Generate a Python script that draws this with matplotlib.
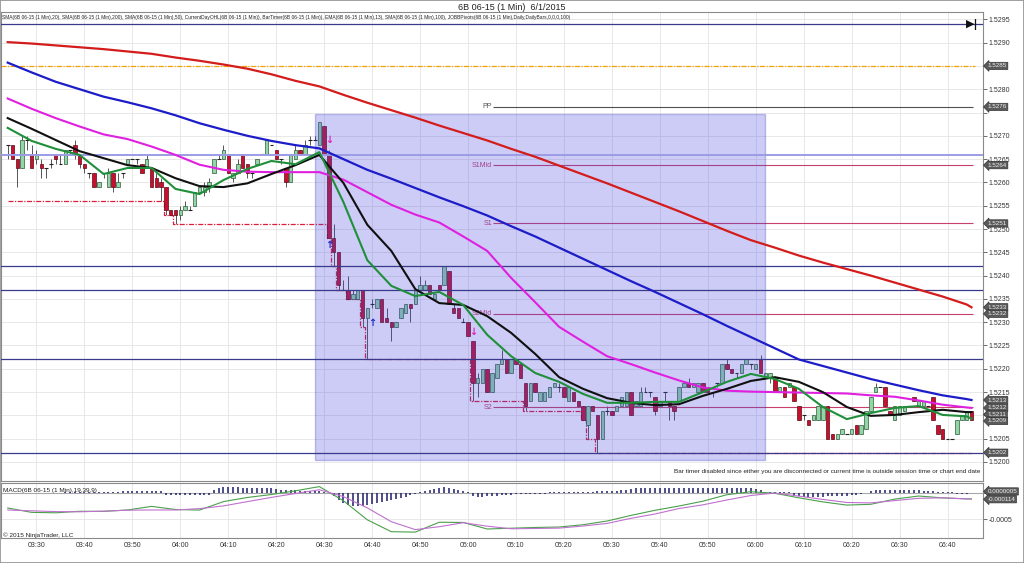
import numpy as np
import matplotlib
matplotlib.use("Agg")
import matplotlib.pyplot as plt
from matplotlib.patches import Rectangle
from matplotlib.ticker import MultipleLocator, FuncFormatter

plt.rcParams['font.family'] = ['Liberation Sans', 'DejaVu Sans']

# ---------------- text ----------------
title = "6B 06-15 (1 Min)  6/1/2015"
indicator_label = ("SMA(6B 06-15 (1 Min),20), SMA(6B 06-15 (1 Min),200), SMA(6B 06-15 (1 Min),50), "
                   "CurrentDayOHL(6B 06-15 (1 Min)), BarTimer(6B 06-15 (1 Min)), EMA(6B 06-15 (1 Min),13), "
                   "SMA(6B 06-15 (1 Min),100), JOBBPivots(6B 06-15 (1 Min),Daily,DailyBars,0,0,0,100)")
macd_label = "MACD(6B 06-15 (1 Min),19,39,9)"
copyright_label = "\u00a9 2015 NinjaTrader, LLC"
bar_timer_msg = ("Bar timer disabled since either you are disconnected or current time is outside "
                 "session time or chart end date")

time_labels = ["03:30", "03:40", "03:50", "04:00", "04:10", "04:20", "04:30", "04:40", "04:50", "05:00",
               "05:10", "05:20", "05:30", "05:40", "05:50", "06:00", "06:10", "06:20", "06:30", "06:40"]
time_label_bars = [6, 16, 26, 36, 46, 56, 66, 76, 86, 96, 106, 116, 126, 136, 146, 156, 166, 176, 186, 196]

# ---------------- OHLC (1-minute bars, 03:24 .. 06:45) ----------------
opens = [1.5268,1.5268,1.5265,1.5263,1.5269,1.5266,1.5265,1.5264,1.5263,1.5264,
         1.5266,1.5264,1.5264,1.5267,1.5268,1.5266,1.5264,1.5262,1.5262,1.5259,
         1.5262,1.5259,1.5262,1.5259,1.5262,1.5264,1.5265,1.5265,1.5264,1.5263,
         1.5263,1.5261,1.5260,1.5259,1.5254,1.5254,1.5253,1.5254,1.5254,1.5255,
         1.5258,1.5258,1.5259,1.5262,1.5265,1.5265,1.5266,1.5261,1.5262,1.5266,
         1.5264,1.5262,1.5264,1.5266,1.5266,1.5268,1.5267,1.5265,1.5263,1.5260,
         1.5265,1.5267,1.5266,1.5269,1.5269,1.5268,1.5272,1.5266,1.5248,1.5245,
         1.5237,1.5237,1.5235,1.5235,1.5237,1.5231,1.5234,1.5233,1.5235,1.5231,
         1.5230,1.5229,1.5231,1.5232,1.5234,1.5234,1.5237,1.5237,1.5238,1.5235,
         1.5238,1.5238,1.5241,1.5233,1.5233,1.5230,1.5230,1.5226,1.5217,1.5217,
         1.5220,1.5215,1.5218,1.5221,1.5222,1.5219,1.5222,1.5221,1.5217,1.5213,
         1.5217,1.5213,1.5213,1.5214,1.5216,1.5216,1.5216,1.5213,1.5215,1.5213,
         1.5212,1.5208,1.5212,1.5210,1.5205,1.5211,1.5211,1.5211,1.5212,1.5212,
         1.5215,1.5212,1.5212,1.5215,1.5215,1.5214,1.5212,1.5215,1.5213,1.5212,
         1.5213,1.5216,1.5217,1.5216,1.5215,1.5217,1.5216,1.5215,1.5217,1.5217,
         1.5221,1.5220,1.5219,1.5219,1.5221,1.5221,1.5220,1.5222,1.5218,1.5218,
         1.5218,1.5215,1.5216,1.5216,1.5216,1.5212,1.5210,1.5209,1.5209,1.5209,
         1.5209,1.5212,1.5206,1.5205,1.5206,1.5206,1.5206,1.5208,1.5206,1.5207,
         1.5211,1.5215,1.5216,1.5216,1.5211,1.5209,1.5210,1.5211,1.5212,1.5214,
         1.5212,1.5212,1.5212,1.5214,1.5208,1.5207,1.5205,1.5205,1.5206,1.5209,
         1.5209,1.5211]
highs = [1.5268,1.5268,1.5265,1.5270,1.5270,1.5268,1.5267,1.5265,1.5263,1.5265,
         1.5266,1.5266,1.5267,1.5267,1.5269,1.5266,1.5264,1.5262,1.5262,1.5260,
         1.5262,1.5263,1.5262,1.5262,1.5262,1.5265,1.5265,1.5265,1.5264,1.5266,
         1.5263,1.5262,1.5261,1.5259,1.5254,1.5254,1.5255,1.5256,1.5255,1.5258,
         1.5259,1.5260,1.5261,1.5265,1.5266,1.5268,1.5266,1.5262,1.5265,1.5266,
         1.5264,1.5262,1.5265,1.5266,1.5269,1.5268,1.5267,1.5265,1.5263,1.5266,
         1.5268,1.5267,1.5269,1.5270,1.5270,1.5273,1.5272,1.5267,1.5251,1.5245,
         1.5239,1.5240,1.5237,1.5237,1.5237,1.5233,1.5235,1.5235,1.5235,1.5233,
         1.5230,1.5230,1.5233,1.5234,1.5234,1.5237,1.5240,1.5239,1.5238,1.5236,
         1.5238,1.5242,1.5241,1.5234,1.5233,1.5231,1.5230,1.5226,1.5219,1.5220,
         1.5220,1.5219,1.5221,1.5224,1.5222,1.5222,1.5222,1.5221,1.5217,1.5217,
         1.5217,1.5215,1.5215,1.5216,1.5217,1.5217,1.5216,1.5216,1.5215,1.5213,
         1.5212,1.5212,1.5212,1.5210,1.5211,1.5212,1.5211,1.5212,1.5214,1.5215,
         1.5215,1.5213,1.5216,1.5216,1.5215,1.5214,1.5213,1.5215,1.5213,1.5212,
         1.5216,1.5217,1.5218,1.5217,1.5217,1.5217,1.5216,1.5215,1.5217,1.5221,
         1.5222,1.5220,1.5219,1.5221,1.5222,1.5221,1.5221,1.5223,1.5219,1.5219,
         1.5218,1.5216,1.5216,1.5217,1.5216,1.5212,1.5210,1.5209,1.5210,1.5212,
         1.5212,1.5212,1.5206,1.5206,1.5207,1.5206,1.5207,1.5208,1.5208,1.5211,
         1.5214,1.5217,1.5216,1.5216,1.5211,1.5212,1.5212,1.5212,1.5212,1.5214,
         1.5213,1.5213,1.5212,1.5214,1.5208,1.5207,1.5205,1.5205,1.5209,1.5210,
         1.5211,1.5211]
lows = [1.5265,1.5265,1.5259,1.5263,1.5267,1.5263,1.5264,1.5261,1.5261,1.5263,
        1.5264,1.5264,1.5264,1.5266,1.5265,1.5263,1.5262,1.5261,1.5259,1.5259,
        1.5261,1.5259,1.5258,1.5259,1.5261,1.5264,1.5265,1.5264,1.5262,1.5263,
        1.5259,1.5259,1.5256,1.5253,1.5253,1.5251,1.5252,1.5254,1.5254,1.5255,
        1.5258,1.5257,1.5258,1.5262,1.5265,1.5265,1.5262,1.5260,1.5262,1.5263,
        1.5261,1.5261,1.5264,1.5266,1.5266,1.5268,1.5265,1.5264,1.5259,1.5260,
        1.5265,1.5266,1.5266,1.5268,1.5269,1.5268,1.5266,1.5248,1.5242,1.5237,
        1.5237,1.5235,1.5235,1.5235,1.5229,1.5222,1.5233,1.5233,1.5230,1.5230,
        1.5226,1.5229,1.5231,1.5232,1.5230,1.5234,1.5237,1.5237,1.5236,1.5235,
        1.5237,1.5238,1.5234,1.5232,1.5231,1.5230,1.5227,1.5213,1.5214,1.5217,
        1.5215,1.5215,1.5218,1.5221,1.5219,1.5219,1.5221,1.5218,1.5211,1.5213,
        1.5215,1.5213,1.5213,1.5214,1.5216,1.5215,1.5214,1.5213,1.5213,1.5212,
        1.5209,1.5205,1.5211,1.5202,1.5205,1.5210,1.5210,1.5211,1.5212,1.5212,
        1.5210,1.5212,1.5212,1.5215,1.5214,1.5210,1.5212,1.5213,1.5209,1.5209,
        1.5213,1.5216,1.5216,1.5216,1.5215,1.5215,1.5215,1.5214,1.5216,1.5217,
        1.5220,1.5219,1.5218,1.5219,1.5221,1.5220,1.5220,1.5219,1.5218,1.5217,
        1.5215,1.5215,1.5214,1.5216,1.5213,1.5209,1.5209,1.5208,1.5209,1.5209,
        1.5209,1.5205,1.5205,1.5205,1.5206,1.5206,1.5206,1.5206,1.5206,1.5207,
        1.5211,1.5215,1.5216,1.5212,1.5210,1.5209,1.5210,1.5211,1.5212,1.5213,
        1.5212,1.5212,1.5212,1.5209,1.5206,1.5205,1.5205,1.5205,1.5206,1.5209,
        1.5209,1.5209]
closes = [1.5268,1.5265,1.5263,1.5269,1.5269,1.5263,1.5266,1.5263,1.5263,1.5264,
          1.5265,1.5264,1.5267,1.5267,1.5266,1.5264,1.5263,1.5262,1.5259,1.5260,
          1.5262,1.5262,1.5259,1.5260,1.5262,1.5265,1.5265,1.5265,1.5262,1.5265,
          1.5259,1.5259,1.5259,1.5254,1.5253,1.5253,1.5254,1.5255,1.5254,1.5258,
          1.5259,1.5259,1.5260,1.5265,1.5265,1.5267,1.5262,1.5262,1.5264,1.5263,
          1.5262,1.5262,1.5265,1.5266,1.5269,1.5268,1.5265,1.5265,1.5260,1.5266,
          1.5267,1.5266,1.5268,1.5269,1.5269,1.5273,1.5266,1.5248,1.5245,1.5238,
          1.5237,1.5235,1.5236,1.5237,1.5231,1.5233,1.5234,1.5235,1.5230,1.5230,
          1.5229,1.5230,1.5233,1.5234,1.5233,1.5237,1.5238,1.5238,1.5236,1.5236,
          1.5237,1.5242,1.5234,1.5232,1.5231,1.5230,1.5227,1.5217,1.5218,1.5220,
          1.5215,1.5219,1.5221,1.5222,1.5219,1.5222,1.5221,1.5218,1.5212,1.5217,
          1.5215,1.5215,1.5215,1.5216,1.5217,1.5216,1.5214,1.5216,1.5213,1.5212,
          1.5209,1.5212,1.5211,1.5205,1.5211,1.5211,1.5210,1.5212,1.5214,1.5215,
          1.5210,1.5213,1.5215,1.5215,1.5215,1.5211,1.5213,1.5215,1.5212,1.5211,
          1.5216,1.5217,1.5216,1.5217,1.5217,1.5215,1.5215,1.5215,1.5217,1.5221,
          1.5220,1.5219,1.5219,1.5221,1.5222,1.5221,1.5221,1.5219,1.5219,1.5219,
          1.5215,1.5216,1.5214,1.5217,1.5213,1.5209,1.5210,1.5208,1.5210,1.5212,
          1.5212,1.5205,1.5205,1.5206,1.5207,1.5206,1.5207,1.5206,1.5208,1.5211,
          1.5214,1.5216,1.5216,1.5212,1.5210,1.5212,1.5212,1.5212,1.5212,1.5213,
          1.5213,1.5213,1.5212,1.5209,1.5206,1.5205,1.5205,1.5205,1.5209,1.5210,
          1.5211,1.5209]

# ---------------- indicator values, read every 5 bars (+ last bar) ----------------
ma_bars = list(range(0, 201, 5)) + [201]
sma200 = [1.52901,1.52898,1.52894,1.52890,1.52886,1.52881,1.52876,1.52868,1.52861,1.52853,
          1.52844,1.52832,1.52818,1.52806,1.52788,1.52771,1.52755,1.52739,1.52722,1.52706,
          1.52690,1.52672,1.52655,1.52636,1.52617,1.52598,1.52578,1.52558,1.52538,1.52517,
          1.52496,1.52476,1.52460,1.52443,1.52428,1.52414,1.52400,1.52385,1.52370,1.52355,
          1.52338,1.52332]
sma100 = [1.52857,1.52836,1.52816,1.52800,1.52784,1.52772,1.52759,1.52744,1.52727,1.52713,
          1.52700,1.52689,1.52680,1.52673,1.52650,1.52627,1.52608,1.52588,1.52568,1.52549,
          1.52529,1.52506,1.52484,1.52460,1.52436,1.52412,1.52388,1.52365,1.52341,1.52317,
          1.52292,1.52268,1.52244,1.52220,1.52206,1.52192,1.52178,1.52166,1.52154,1.52143,
          1.52135,1.52133]
sma50 = [1.52780,1.52758,1.52738,1.52720,1.52703,1.52693,1.52677,1.52659,1.52638,1.52627,
         1.52623,1.52622,1.52622,1.52622,1.52606,1.52579,1.52552,1.52531,1.52514,1.52484,
         1.52453,1.52395,1.52343,1.52290,1.52258,1.52227,1.52210,1.52192,1.52175,1.52160,
         1.52153,1.52151,1.52150,1.52149,1.52148,1.52147,1.52143,1.52140,1.52132,1.52123,
         1.52117,1.52116]
sma20 = [1.52738,1.52715,1.52691,1.52667,1.52652,1.52637,1.52631,1.52609,1.52592,1.52590,
         1.52598,1.52618,1.52637,1.52659,1.52599,1.52509,1.52453,1.52371,1.52341,1.52337,
         1.52313,1.52277,1.52232,1.52182,1.52157,1.52137,1.52127,1.52122,1.52124,1.52142,
         1.52157,1.52174,1.52182,1.52172,1.52150,1.52118,1.52099,1.52101,1.52107,1.52112,
         1.52107,1.52107]
ema13 = [1.52717,1.52689,1.52672,1.52659,1.52618,1.52631,1.52631,1.52586,1.52575,1.52605,
         1.52629,1.52646,1.52639,1.52665,1.52558,1.52433,1.52378,1.52356,1.52365,1.52337,
         1.52273,1.52227,1.52191,1.52172,1.52146,1.52127,1.52127,1.52129,1.52129,1.52150,
         1.52172,1.52189,1.52178,1.52157,1.52118,1.52092,1.52105,1.52116,1.52120,1.52101,
         1.52098,1.52093]
macd_line = [-0.000288,-0.000372,-0.000380,-0.000351,-0.000353,-0.000326,-0.000257,-0.000317,
             -0.000328,-0.000165,-0.000086,-0.000029,0.000042,0.000123,-0.000148,-0.000515,
             -0.000743,-0.000751,-0.000561,-0.000566,-0.000691,-0.000676,-0.000662,-0.000653,
             -0.000609,-0.000538,-0.000430,-0.000332,-0.000250,-0.000157,-0.000033,0.000025,
             -0.000006,-0.000092,-0.000171,-0.000232,-0.000217,-0.000117,-0.000058,-0.000094,
             -0.000113,-0.000114]
macd_signal = [-0.000326,-0.000342,-0.000357,-0.000361,-0.000348,-0.000330,-0.000326,-0.000326,
               -0.000300,-0.000248,-0.000165,-0.000084,-0.000010,0.000063,-0.000069,-0.000286,
               -0.000551,-0.000703,-0.000647,-0.000570,-0.000637,-0.000687,-0.000681,-0.000674,
               -0.000634,-0.000584,-0.000486,-0.000403,-0.000298,-0.000227,-0.000134,-0.000048,
               0.000000,-0.000060,-0.000123,-0.000182,-0.000190,-0.000146,-0.000102,-0.000092,
               -0.000113,-0.000114]
# MACD histogram, one value per bar
macd_hist = [0,0,0,0,0,0,0,0,0,0,
             0,0,1e-5,1e-5,1e-5,1e-5,1e-5,1e-5,1e-5,1e-5,
             1e-5,1e-5,1e-5,1e-5,4e-5,4e-5,4e-5,4e-5,4e-5,4e-5,
             4e-5,4e-5,4e-5,-3e-5,-3e-5,-3e-5,-3e-5,-3e-5,-3e-5,-3e-5,
             -3e-5,-3e-5,-3e-5,6e-5,10e-5,11.5e-5,11.5e-5,11.5e-5,11.5e-5,10e-5,
             10e-5,10e-5,10e-5,10e-5,10e-5,10e-5,8e-5,6e-5,6e-5,6e-5,
             6e-5,4e-5,4e-5,4e-5,4e-5,4e-5,2e-5,0,-6e-5,-13.5e-5,
             -19e-5,-23e-5,-25e-5,-25e-5,-25e-5,-23e-5,-21e-5,-19e-5,-17e-5,-15.5e-5,
             -13.5e-5,-11.5e-5,-10e-5,-8e-5,-4e-5,-2e-5,2e-5,4e-5,6e-5,8e-5,
             10e-5,11.5e-5,10e-5,8e-5,6e-5,4e-5,2e-5,-6e-5,-8e-5,-8e-5,
             -6e-5,-6e-5,-6e-5,-4e-5,-4e-5,-4e-5,-2e-5,-2e-5,-2e-5,-2e-5,
             -1e-5,-1e-5,-1e-5,1e-5,1e-5,1e-5,1e-5,1e-5,2e-5,2e-5,
             2e-5,2e-5,2e-5,4e-5,4e-5,4e-5,4e-5,4e-5,6e-5,6e-5,
             8e-5,10e-5,10e-5,10e-5,10e-5,10e-5,10e-5,10e-5,10e-5,10e-5,
             10e-5,10e-5,10e-5,10e-5,10e-5,10e-5,10e-5,10e-5,10e-5,10e-5,
             10e-5,10e-5,10e-5,10e-5,10e-5,10e-5,8e-5,6e-5,2e-5,2e-5,
             2e-5,2e-5,2e-5,2e-5,-6e-5,-6e-5,-8e-5,-8e-5,-8e-5,-8e-5,
             -8e-5,-6e-5,-6e-5,-6e-5,-6e-5,-6e-5,-4e-5,-4e-5,-2e-5,0,
             4e-5,6e-5,6e-5,6e-5,6e-5,6e-5,6e-5,6e-5,6e-5,6e-5,
             6e-5,4e-5,4e-5,4e-5,2e-5,2e-5,1e-5,1e-5,-1e-5,-1e-5,
             -1e-5,0.0000005]

# ---------------- levels ----------------
day_open = 1.5285
prior_day_low = 1.5256
pivot_names = ["PP", "S1Mid", "S1", "S2Mid", "S2"]
pivot_values = [1.52762, 1.52637, 1.52512, 1.52318, 1.52118]
pivot_start_bar = 101.3
drawn_lines = [1.5294, 1.5242, 1.5237, 1.5222, 1.5202]
drawn_light_line = 1.52659
box_bars = (64.0, 158.0)
box_prices = (1.52004, 1.52747)
signal_up_bars = [67, 76]
signal_up_prices = [1.52465, 1.52298]
signal_down_bars = [67, 97]
signal_down_prices = [1.52690, 1.52278]
hidden_price_labels = [1.5285, 1.5275, 1.5210]

# ---------------- figure ----------------
W, H = 1024, 563
fig = plt.figure(figsize=(W / 100, H / 100), dpi=100)
fig.patch.set_facecolor("white")

def fx(px):
    return px / W

def fy(py):
    return 1 - py / H

ax = fig.add_axes([fx(1), fy(481), fx(983) - fx(1), fy(12) - fy(481)])
ax2 = fig.add_axes([fx(1), fy(538), fx(983) - fx(1), fy(483) - fy(538)])

o = np.array(opens); h = np.array(highs); l = np.array(lows); c = np.array(closes)
n = len(o)
bars = np.arange(n)

spine_col = "#8a8a8a"
for a in (ax, ax2):
    for s in a.spines.values():
        s.set_color(spine_col)
        s.set_linewidth(0.8)
    a.set_xlim(-1.4, 203.4)
    a.set_xticks(time_label_bars)
    a.grid(True, color="#e4e4e4", linewidth=0.6, zorder=0)
    a.set_axisbelow(True)
    a.yaxis.tick_right()
    a.tick_params(axis="y", which="both", length=3, width=0.6, color="#555555",
                  labelsize=5, labelcolor="#333333", pad=1)

ax.set_ylim(1.519592, 1.529657)
ax.yaxis.set_major_locator(MultipleLocator(0.0005))

def price_fmt(v, pos):
    if any(abs(v - hv) < 1e-6 for hv in hidden_price_labels):
        return ""
    return f"{v:.4f}"

ax.yaxis.set_major_formatter(FuncFormatter(price_fmt))
ax.tick_params(axis="x", length=0, labelbottom=False)

# candles
up = c > o
down = c < o
doji = c == o
ax.vlines(bars, l, h, color="#3a3a3a", linewidth=0.6, zorder=2)
ax.bar(bars[up], (c - o)[up], bottom=o[up], width=0.72, color="#93d6a6",
       edgecolor="#2f5a3c", linewidth=0.5, zorder=2.5)
ax.bar(bars[down], (c - o)[down], bottom=o[down], width=0.72, color="#c8102e",
       edgecolor="#5a0a16", linewidth=0.5, zorder=2.5)
ax.hlines(c[doji], bars[doji] - 0.4, bars[doji] + 0.4, color="#222222", linewidth=0.8, zorder=2.5)

# current day OHL lines
day_low = np.minimum.accumulate(np.minimum(l, prior_day_low))
ax.plot(bars, day_low, drawstyle="steps-mid", color="#dc1e3c", linewidth=0.9,
        linestyle=(0, (4, 1.2, 1, 1.2)), zorder=2.2)
ax.axhline(day_open, xmin=0, xmax=0.992, color="#f4a000", linewidth=0.9,
           linestyle=(0, (4, 1.2, 1, 1.2)), zorder=2.2)

# pivots
for name, val in zip(pivot_names, pivot_values):
    col = "#505050" if name == "PP" else "#c8406a"
    ax.hlines(val, pivot_start_bar, n - 0.6, color=col, linewidth=0.8, zorder=2.2)
    ax.text(pivot_start_bar - 0.3, val, name, ha="right", va="center", fontsize=5, color=col, zorder=2.2)

# drawn horizontal lines
for val in drawn_lines:
    ax.axhline(val, color="#3a3a8c", linewidth=0.9, zorder=3.5)
ax.axhline(drawn_light_line, color="#9c9ce6", linewidth=1.4, zorder=3.5)

# drawn rectangle
ax.add_patch(Rectangle((box_bars[0], box_prices[0]), box_bars[1] - box_bars[0],
                       box_prices[1] - box_prices[0], facecolor="#4848e0", alpha=0.28,
                       edgecolor="#3030c0", linewidth=1.0, zorder=3))

# moving averages
ax.plot(ma_bars, sma200, color="#d41c1c", linewidth=1.6, zorder=4)
ax.plot(ma_bars, sma100, color="#1c1cc8", linewidth=1.6, zorder=4)
ax.plot(ma_bars, sma50, color="#e020e0", linewidth=1.5, zorder=4)
ax.plot(ma_bars, sma20, color="#101010", linewidth=1.5, zorder=4.1)
ax.plot(ma_bars, ema13, color="#1f8f3a", linewidth=1.5, zorder=4.2)

# signals
for b, p in zip(signal_up_bars, signal_up_prices):
    ax.text(b, p, "\u2191", ha="center", va="center", fontsize=7, fontweight="bold",
            color="#1c2cd0", family="DejaVu Sans", zorder=5)
for b, p in zip(signal_down_bars, signal_down_prices):
    ax.text(b, p, "\u2193", ha="center", va="center", fontsize=7, fontweight="bold",
            color="#e020c0", family="DejaVu Sans", zorder=5)

ax.text(0.997, 0.02, bar_timer_msg, transform=ax.transAxes, ha="right", va="center",
        fontsize=4.6, color="#222222")

# value tags on the price axis
def tag(a, val, text, pos=None):
    a.annotate(text, xy=(1.0, val if pos is None else pos), xycoords=("axes fraction", "data"),
               xytext=(3.2, 0), textcoords="offset points", ha="left", va="center",
               fontsize=4.5, color="#f0f0f0",
               bbox=dict(boxstyle="larrow,pad=0.18", fc="#5a5a5a", ec="#333333", lw=0.5),
               annotation_clip=False, zorder=10)

tag_values = [day_open] + pivot_values[:4] + [sma200[-1], sma100[-1], sma50[-1], sma20[-1],
                                              ema13[-1], day_low[-1]]
min_gap = 0.000140  # keep stacked tags apart (about 6.5 px)
prev = None
for val in sorted(tag_values, reverse=True):
    pos = val if prev is None else min(val, prev - min_gap)
    tag(ax, val, f"{val:.4f}", pos)
    prev = pos

# ---------------- MACD panel ----------------
ax2.set_ylim(-0.000864, 0.000192)
ax2.set_yticks([0.0, -0.0005])
ax2.set_yticklabels(["", "-0.0005"])
ax2.set_xticklabels(time_labels)
ax2.tick_params(axis="x", length=0, labelsize=5, labelcolor="#333333", pad=3)
ax2.axhline(0, color="#a8a8a8", linewidth=0.8, zorder=1)
ax2.vlines(bars, 0, macd_hist, color="#1c1c6a", linewidth=1.1, zorder=2)
ax2.plot(ma_bars, macd_line, color="#4aa04a", linewidth=0.8, zorder=3)
ax2.plot(ma_bars, macd_signal, color="#c070d0", linewidth=0.8, zorder=3)
ax2.text(0.002, 0.87, macd_label, transform=ax2.transAxes, fontsize=4.6, va="center", color="#222222")
ax2.text(0.002, 0.06, copyright_label, transform=ax2.transAxes, fontsize=4.6, va="center", color="#222222")
tag(ax2, macd_hist[-1], f"{macd_hist[-1]:.7f}", 0.00003)
tag(ax2, macd_line[-1], f"{macd_line[-1]:.6f}", -0.00012)

# ---------------- header ----------------
fig.text(0.5, fy(7), title, ha="center", va="center", fontsize=6.5, color="#222222")
fig.text(fx(2), fy(17.5), indicator_label, ha="left", va="center", fontsize=3.5, color="#222222")
fig.text(fx(972), fy(24), "\u25b6|", ha="center", va="center", fontsize=8, fontweight="bold",
         family="DejaVu Sans", color="#111111")
fig.patches.append(Rectangle((0, 0), 1, 1, transform=fig.transFigure, fill=False,
                             edgecolor="#909090", linewidth=1.2))

fig.savefig("out.png", dpi=100)
